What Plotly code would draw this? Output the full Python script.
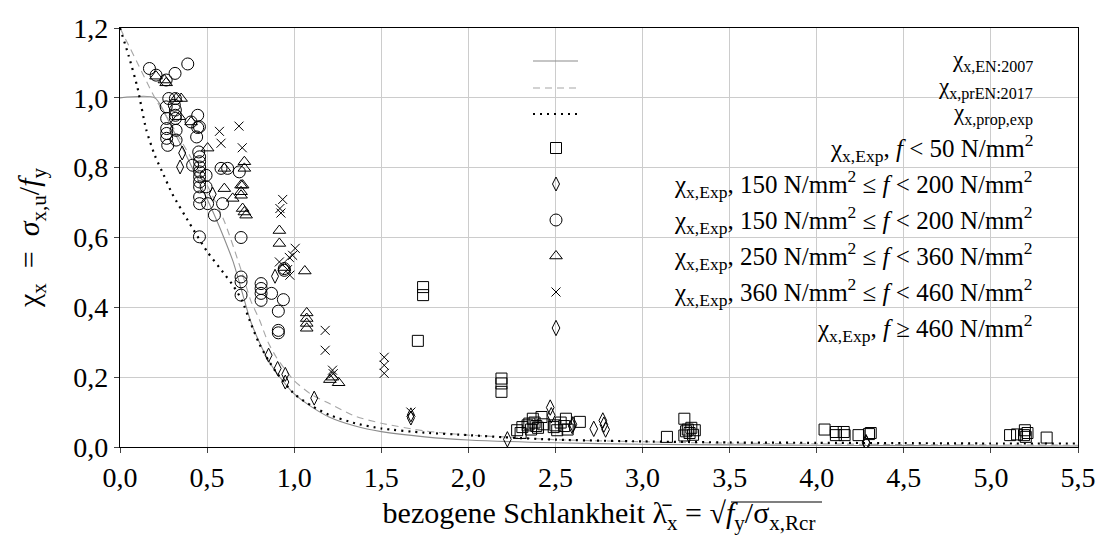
import plotly.graph_objects as go

FONT = "Liberation Serif"

# ---------------- curves ----------------
en2007_x = [0, 0.2, 0.3, 0.4, 0.5, 0.55, 0.6, 0.65, 0.7, 0.75, 0.8, 0.85, 0.9, 1.0, 1.1, 1.2, 1.35, 1.5, 1.75, 2.0, 2.5, 3.0, 3.5, 4.0, 4.5, 5.0, 5.5]
en2007_y = [1.0, 1.0, 0.912, 0.815, 0.71, 0.655, 0.595, 0.53, 0.445, 0.36, 0.30, 0.25, 0.212, 0.152, 0.115, 0.086, 0.06, 0.044, 0.029, 0.02, 0.012, 0.008, 0.006, 0.005, 0.004, 0.003, 0.003]

pren2017_x = [0, 0.1, 0.2, 0.3, 0.4, 0.5, 0.6, 0.7, 0.75, 0.8, 0.85, 0.9, 1.0, 1.1, 1.2, 1.35, 1.5, 1.75, 2.0, 2.2, 2.5, 3.0, 3.5, 4.0, 4.5, 5.0, 5.5]
pren2017_y = [1.2, 1.1, 1.0, 0.92, 0.835, 0.75, 0.645, 0.50, 0.42, 0.365, 0.30, 0.255, 0.19, 0.15, 0.125, 0.088, 0.068, 0.046, 0.034, 0.029, 0.021, 0.015, 0.011, 0.009, 0.007, 0.006, 0.005]

prop_x = [0, 0.05, 0.1, 0.15, 0.2, 0.25, 0.3, 0.4, 0.5, 0.6, 0.65, 0.7, 0.75, 0.8, 0.85, 0.9, 1.0, 1.1, 1.2, 1.35, 1.5, 1.75, 2.0, 2.2, 2.5, 3.0, 3.5, 4.0, 4.5, 5.0, 5.5]
prop_y = [1.2, 1.12, 1.03, 0.91, 0.835, 0.78, 0.725, 0.64, 0.56, 0.495, 0.462, 0.42, 0.355, 0.295, 0.25, 0.212, 0.152, 0.118, 0.092, 0.068, 0.053, 0.041, 0.034, 0.028, 0.021, 0.016, 0.013, 0.012, 0.011, 0.010, 0.010]

# ---------------- experiments ----------------
sq_x = [1.71, 1.74, 1.74, 2.19, 2.19, 2.19,
        2.28, 2.30, 2.31, 2.34, 2.35, 2.36, 2.37, 2.38, 2.39, 2.40, 2.42, 2.43, 2.49, 2.50, 2.51, 2.53, 2.55, 2.56, 2.57, 2.64,
        3.14, 3.24, 3.24, 3.25, 3.26, 3.27, 3.28, 3.29, 3.30,
        4.045, 4.11, 4.11, 4.155, 4.16, 4.24, 4.30, 4.31,
        5.11, 5.15, 5.19, 5.195, 5.20, 5.21, 5.32]
sq_y = [0.304, 0.458, 0.435, 0.196, 0.182, 0.158,
        0.048, 0.040, 0.057, 0.062, 0.067, 0.050, 0.081, 0.070, 0.060, 0.055, 0.086, 0.065, 0.057, 0.062, 0.048, 0.070, 0.060, 0.081, 0.050, 0.072,
        0.029, 0.081, 0.033, 0.045, 0.050, 0.040, 0.055, 0.035, 0.048,
        0.050, 0.043, 0.034, 0.043, 0.034, 0.034, 0.037, 0.040,
        0.034, 0.036, 0.034, 0.048, 0.029, 0.040, 0.027]

dia1_x = [0.345, 0.357, 0.532, 0.853, 0.89, 0.905, 0.949, 0.949, 1.115, 1.67, 1.67]
dia1_y = [0.802, 0.842, 0.724, 0.263, 0.489, 0.225, 0.208, 0.186, 0.140, 0.092, 0.083]

circ_x = [0.169, 0.207, 0.265, 0.316, 0.389,
          0.28, 0.318, 0.312, 0.318, 0.318, 0.318,
          0.265, 0.268, 0.268, 0.268, 0.268, 0.274, 0.322, 0.322,
          0.446, 0.446, 0.44, 0.408, 0.417, 0.452,
          0.457, 0.457, 0.457, 0.457, 0.457, 0.457, 0.457,
          0.494, 0.457, 0.457, 0.494, 0.503, 0.542, 0.589,
          0.456, 0.58, 0.618, 0.685, 0.695,
          0.695, 0.695, 0.695, 0.81, 0.81, 0.81, 0.81, 0.87,
          0.909, 0.909, 0.909, 0.943, 0.943, 0.938, 0.456]
circ_y = [1.084, 1.065, 1.051, 1.07, 1.097,
          0.998, 0.998, 0.979, 0.965, 0.95, 0.941,
          0.974, 0.941, 0.912, 0.898, 0.884, 0.864, 0.879, 0.907,
          0.95, 0.915, 0.888, 0.931, 0.807, 0.845,
          0.831, 0.817, 0.802, 0.788, 0.774, 0.759, 0.745,
          0.778, 0.716, 0.697, 0.745, 0.697, 0.664, 0.697,
          0.602, 0.798, 0.798, 0.788, 0.600,
          0.487, 0.473, 0.435, 0.468, 0.454, 0.44, 0.42, 0.44,
          0.389, 0.334, 0.327, 0.511, 0.506, 0.422, 0.917]

tri_x = [0.207, 0.255, 0.265, 0.322, 0.351, 0.341, 0.408, 0.503, 0.599, 0.714, 0.714, 0.599, 0.647,
         0.695, 0.704, 0.695, 0.695, 0.704, 0.714, 0.724, 0.915, 0.915, 1.061, 0.943,
         1.072, 1.072, 1.072, 1.072, 1.205, 1.22, 1.255]
tri_y = [1.062, 1.051, 1.043, 0.998, 0.998, 0.946, 0.931, 0.856, 0.798, 0.817, 0.798, 0.740, 0.712,
         0.750, 0.750, 0.731, 0.721, 0.683, 0.673, 0.664, 0.620, 0.583, 0.504, 0.514,
         0.384, 0.368, 0.354, 0.340, 0.193, 0.200, 0.184]

x_x = [0.571, 0.58, 0.683, 0.702, 0.934, 0.918, 0.924, 1.006, 0.991, 0.972, 0.915, 0.962, 0.975,
       1.178, 1.178, 1.22, 1.224, 1.517, 1.517, 1.517, 1.67]
x_y = [0.904, 0.870, 0.919, 0.857, 0.709, 0.683, 0.670, 0.569, 0.549, 0.543, 0.530, 0.508, 0.492,
       0.334, 0.277, 0.220, 0.210, 0.257, 0.234, 0.211, 0.100]

dia2_x = [2.224, 2.47, 2.476, 2.596, 2.60, 2.72, 2.772, 2.778, 2.788, 4.283, 4.285]
dia2_y = [0.022, 0.113, 0.091, 0.060, 0.065, 0.052, 0.076, 0.064, 0.050, 0.014, 0.010]

x_ticks = [0, 0.5, 1.0, 1.5, 2.0, 2.5, 3.0, 3.5, 4.0, 4.5, 5.0, 5.5]
y_ticks = [0, 0.2, 0.4, 0.6, 0.8, 1.0, 1.2]

labels = [
    "χ<sub>x,EN:2007</sub>",
    "χ<sub>x,prEN:2017</sub>",
    "χ<sub>x,prop,exp</sub>",
    "χ<sub>x,Exp</sub>, <i>f</i> &lt; 50 N/mm<sup>2</sup>",
    "χ<sub>x,Exp</sub>, 150 N/mm<sup>2</sup> ≤ <i>f</i> &lt; 200 N/mm<sup>2</sup>",
    "χ<sub>x,Exp</sub>, 150 N/mm<sup>2</sup> ≤ <i>f</i> &lt; 200 N/mm<sup>2</sup>",
    "χ<sub>x,Exp</sub>, 250 N/mm<sup>2</sup> ≤ <i>f</i> &lt; 360 N/mm<sup>2</sup>",
    "χ<sub>x,Exp</sub>, 360 N/mm<sup>2</sup> ≤ <i>f</i> &lt; 460 N/mm<sup>2</sup>",
    "χ<sub>x,Exp</sub>, <i>f</i> ≥ 460 N/mm<sup>2</sup>",
]

# ---- geometry (page pixels; the page body adds an 8px margin) ----
OFF = 8
W, H = 1088, 533
L, R, T, B = 112, 18, 20, 94
pw, ph = W - L - R, H - T - B

def px_x(p):
    return (p - OFF - L) / pw

def px_y(p):
    return (H - B - (p - OFF)) / ph

legend_sym_x = 556
legend_line_x0, legend_line_x1 = 533, 578
legend_rows = [61, 88, 114, 148, 184, 220, 256, 292, 328]
legend_text_right = 1035
legend_font_sizes = [23, 23, 23, 25, 25, 25, 25, 25, 25]

fig = go.Figure()

line_styles = [
    dict(color="#8c8c8c", width=1.1, dash="solid"),
    dict(color="#a6a6a6", width=1.1, dash="7px,5px"),
    dict(color="black", width=2.2, dash="2px,5px"),
]
for xs, ys, ln in zip([en2007_x, pren2017_x, prop_x], [en2007_y, pren2017_y, prop_y], line_styles):
    fig.add_trace(go.Scatter(x=xs, y=ys, mode="lines", line=dict(shape="spline", smoothing=0.6, **ln),
                             showlegend=False, hoverinfo="skip"))

mk_specs = [
    (sq_x, sq_y, dict(symbol="square-open", size=11)),
    (dia1_x, dia1_y, dict(symbol="diamond-tall-open", size=10)),
    (circ_x, circ_y, dict(symbol="circle-open", size=12)),
    (tri_x, tri_y, dict(symbol="triangle-up-open", size=11)),
    (x_x, x_y, dict(symbol="x-thin-open", size=9)),
    (dia2_x, dia2_y, dict(symbol="diamond-tall-open", size=11)),
]
legend_keys = ["legend"] + [f"legend{k}" for k in range(2, 7)]
for (xs, ys, mk), key in zip(mk_specs, legend_keys):
    fig.add_trace(go.Scatter(x=xs, y=ys, mode="markers",
                             marker=dict(color="black", line=dict(color="black", width=1), **mk),
                             name=" ", legend=key, showlegend=True))

legends = {}
for key, row in zip(legend_keys, legend_rows[3:]):
    legends[key] = dict(x=px_x(legend_sym_x - 20), y=px_y(row), xref="paper", yref="paper",
                        xanchor="left", yanchor="middle", bgcolor="rgba(0,0,0,0)", borderwidth=0,
                        font=dict(size=10, family=FONT), itemwidth=30)

shapes = [dict(type="rect", xref="paper", yref="paper",
               x0=px_x(527), x1=px_x(1046), y0=px_y(362), y1=px_y(29),
               fillcolor="white", line=dict(width=0), layer="between")]
for st, row in zip(line_styles, legend_rows[:3]):
    shapes.append(dict(type="line", xref="paper", yref="paper",
                       x0=px_x(legend_line_x0), x1=px_x(legend_line_x1), y0=px_y(row), y1=px_y(row),
                       line=st, layer="above"))
# vinculum of the square root in the x-axis title
shapes.append(dict(type="line", xref="paper", yref="paper",
                   x0=px_x(731), x1=px_x(822), y0=px_y(502), y1=px_y(502),
                   line=dict(color="black", width=1.2)))

annotations = []
for lab, row, fs in zip(labels, legend_rows, legend_font_sizes):
    annotations.append(dict(text=lab, x=px_x(legend_text_right), y=px_y(row), xref="paper", yref="paper",
                            showarrow=False, xanchor="right", yanchor="middle",
                            font=dict(size=fs, family=FONT, color="black")))

fig.update_layout(
    width=W, height=H,
    margin=dict(l=L, r=R, t=T, b=B, autoexpand=False),
    paper_bgcolor="white", plot_bgcolor="white",
    separators=",.",
    font=dict(family=FONT, size=28, color="black"),
    annotations=annotations,
    shapes=shapes,
    **legends,
)
fig.update_xaxes(range=[0, 5.5], tickvals=x_ticks, tickformat=".1f", showgrid=True, gridcolor="#cccccc", gridwidth=1,
                 showline=True, linecolor="black", linewidth=1.2, mirror=True, ticks="outside", ticklen=5,
                 tickcolor="#444", zeroline=False,
                 title=dict(text="bezogene Schlankheit λ̄<sub>x</sub> = √<i>f</i><sub>y</sub>/σ<sub>x,Rcr</sub>",
                            font=dict(size=30, family=FONT), standoff=10),
                 tickfont=dict(size=28, family=FONT))
fig.update_yaxes(range=[0, 1.2], tickvals=y_ticks, tickformat=".1f", showgrid=True, gridcolor="#cccccc", gridwidth=1,
                 showline=True, linecolor="black", linewidth=1.2, mirror=True, ticks="outside", ticklen=5,
                 tickcolor="#444", zeroline=False,
                 title=dict(text="χ<sub>x</sub>\u2002=\u2002<i>σ</i><sub>x,u</sub>/<i>f</i><sub>y</sub>",
                            font=dict(size=30, family=FONT), standoff=24),
                 tickfont=dict(size=28, family=FONT))

fig.write_html("out.html")
